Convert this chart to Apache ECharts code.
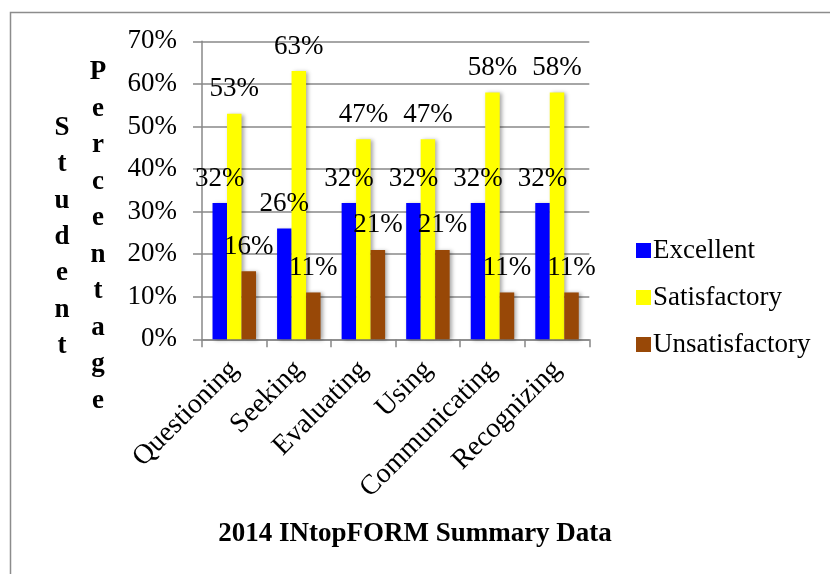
<!DOCTYPE html>
<html><head><meta charset="utf-8">
<script src="https://cdn.jsdelivr.net/npm/echarts@6/dist/echarts.min.js"></script>
<style>html,body{margin:0;padding:0;background:#fff}#c{width:830px;height:574px}</style>
</head><body><div id="c"></div>
<script>
const categories = ['Questioning','Seeking','Evaluating','Using','Communicating','Recognizing'];
const excellent = [32, 26, 32, 32, 32, 32];
const satisfactory = [53, 63, 47, 47, 58, 58];
const unsatisfactory = [16, 11, 21, 21, 11, 11];
const seriesNames = ['Excellent','Satisfactory','Unsatisfactory'];
const yTicks = [0, 10, 20, 30, 40, 50, 60, 70];
const chartTitle = '2014 INtopFORM Summary Data';
const yTitle1 = 'Student';
const yTitle2 = 'Percentage';

const FONT = '"Liberation Serif", "DejaVu Serif", serif';
const chart = echarts.init(document.getElementById('c'), null, {renderer:'canvas'});
const colors = ['#0000FF','#FFFF00','#984807'];
function mk(name, data, i){
  return {
    name, type:'bar', data, barWidth:14.5, barGap:'0%',
    itemStyle:{color:colors[i], shadowBlur:4, shadowColor:'rgba(0,0,0,0.35)', shadowOffsetX:2, shadowOffsetY:1},
    label:{show:true, position:'top', distance:11, formatter:'{c}%', color:'#000', fontFamily:FONT, fontSize:27},
    emphasis:{disabled:true}
  };
}
chart.setOption({
  animation:false,
  title:{text:chartTitle, left:410, textAlign:'center', top:516,
    textStyle:{fontFamily:FONT, fontSize:27, fontWeight:'bold', color:'#000'}},
  legend:{orient:'vertical', left:631, top:232, itemWidth:15, itemHeight:15, itemGap:20,
    icon:'rect', data:seriesNames,
    textStyle:{fontFamily:FONT, fontSize:27, color:'#000', padding:[0,0,0,-3]}},
  grid:{left:202, top:41.3, right:240.7, bottom:234.7, containLabel:false},
  xAxis:{type:'category', data:categories,
    axisLine:{lineStyle:{color:'#888', width:1.5}},
    axisTick:{show:true, length:8, lineStyle:{color:'#888', width:1.5}},
    axisLabel:{rotate:45, margin:26, interval:0, fontFamily:FONT, fontSize:28, color:'#000'}},
  yAxis:{type:'value', min:yTicks[0], max:yTicks[yTicks.length-1], interval:10,
    axisLine:{show:true, lineStyle:{color:'#888', width:1.5}},
    axisTick:{show:true, length:9, lineStyle:{color:'#888', width:1.5}},
    splitLine:{lineStyle:{color:'#888', width:1.5}},
    axisLabel:{formatter:'{value}%', margin:25, fontFamily:FONT, fontSize:27, color:'#000'}},
  graphic:[
    {type:'rect', shape:{x:10.5, y:12.5, width:840, height:600}, style:{fill:null, stroke:'#8c8c8c', lineWidth:1.5}, silent:true, z:-1},
    {type:'text', x:62, y:110, style:{text:yTitle1.split('').join('\n'), align:'center', verticalAlign:'top', lineHeight:36.3, font:'bold 27px '+FONT, fill:'#000'}},
    {type:'text', x:98, y:54, style:{text:yTitle2.split('').join('\n'), align:'center', verticalAlign:'top', lineHeight:36.5, font:'bold 27px '+FONT, fill:'#000'}}
  ],
  series:[mk(seriesNames[0], excellent, 0), mk(seriesNames[1], satisfactory, 1), mk(seriesNames[2], unsatisfactory, 2)]
});
</script></body></html>
